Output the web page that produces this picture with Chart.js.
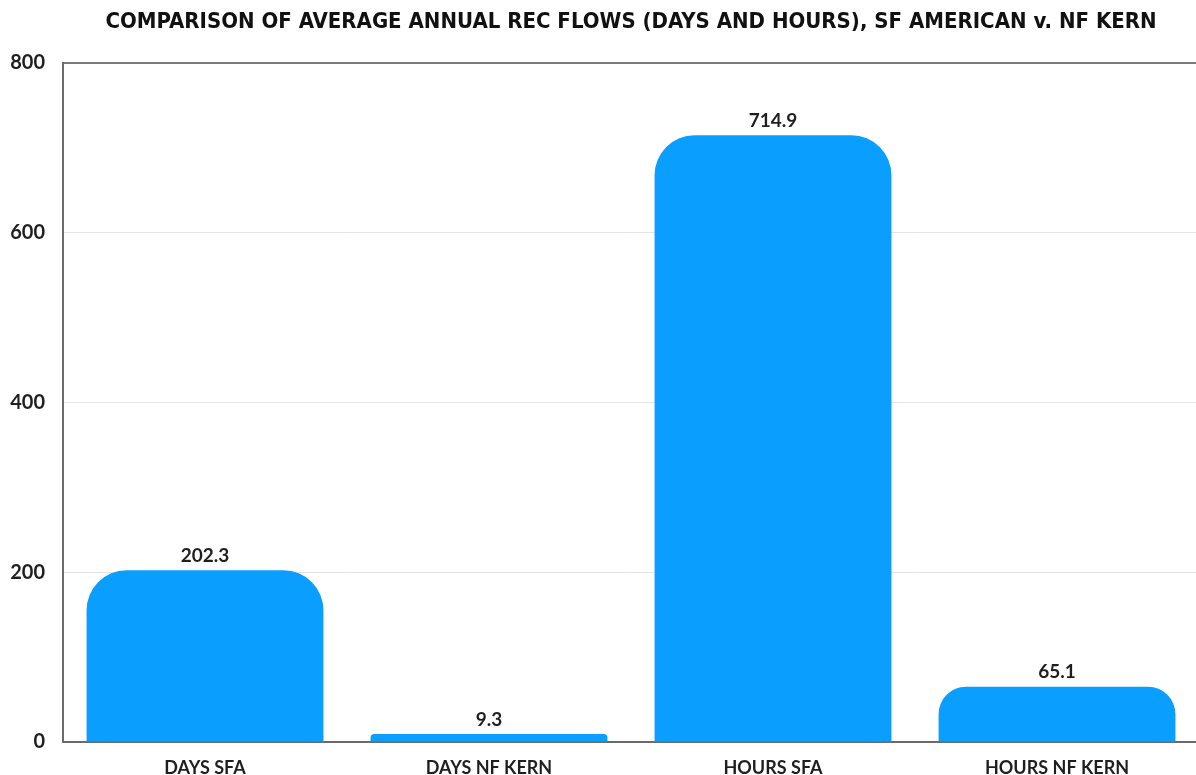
<!DOCTYPE html>
<html>
<head>
<meta charset="utf-8">
<script src="https://cdn.jsdelivr.net/npm/chart.js@4/dist/chart.umd.min.js"></script>
<style>
  html, body { margin: 0; padding: 0; background: #fff; overflow: hidden; }
  #wrap { position: relative; width: 1200px; height: 775px; }
</style>
</head>
<body>
<div id="wrap"><canvas id="chart"></canvas></div>
<script>
// Average annual recreation flows, SF American vs NF Kern
const categories = ['DAYS SFA', 'DAYS NF KERN', 'HOURS SFA', 'HOURS NF KERN'];
const flowValues = [202.3, 9.3, 714.9, 65.1];
const yTicks = [0, 200, 400, 600, 800];

const chartTitle = 'COMPARISON OF AVERAGE ANNUAL REC FLOWS (DAYS AND HOURS), SF AMERICAN v. NF KERN';
const FONT = "Lato, 'Open Sans', sans-serif";
const TITLE_FONT = "bold 22px 'DejaVu Sans Condensed', 'Liberation Sans Narrow', sans-serif";

// Title centred over the plot area rather than the whole canvas
const plotTitle = {
  id: 'plotTitle',
  afterDraw(chart) {
    const ctx = chart.ctx;
    const area = chart.chartArea;
    ctx.save();
    ctx.font = TITLE_FONT;
    ctx.fillStyle = '#111';
    ctx.textAlign = 'center';
    ctx.textBaseline = 'middle';
    ctx.fillText(chartTitle, (area.left + area.right) / 2, 22);
    ctx.restore();
  }
};

// Writes each bar's value just above its top
const valueLabels = {
  id: 'valueLabels',
  afterDatasetsDraw(chart) {
    const ctx = chart.ctx;
    const meta = chart.getDatasetMeta(0);
    ctx.save();
    ctx.font = `bold 19px ${FONT}`;
    ctx.fillStyle = '#1f1f1f';
    ctx.textAlign = 'center';
    ctx.textBaseline = 'bottom';
    meta.data.forEach((bar, i) => {
      ctx.fillText(flowValues[i].toFixed(1), bar.x, bar.y - 5);
    });
    ctx.restore();
  }
};

new Chart(document.getElementById('chart'), {
  type: 'bar',
  data: {
    labels: categories,
    datasets: [{
      data: flowValues,
      backgroundColor: '#0a9eff',
      borderWidth: 0,
      borderSkipped: 'bottom',
      borderRadius: { topLeft: 40, topRight: 40, bottomLeft: 0, bottomRight: 0 },
      categoryPercentage: 1,
      barPercentage: 0.834
    }]
  },
  options: {
    responsive: true,
    maintainAspectRatio: false,
    animation: false,
    layout: { padding: { top: 63, right: 1, left: 0, bottom: 0 } },
    plugins: {
      legend: { display: false },
      tooltip: { enabled: false },
      title: { display: false }
    },
    scales: {
      x: {
        grid: { display: false },
        border: { display: true, color: '#6b6b6b', width: 2 },
        ticks: { color: '#1f1f1f', font: { family: FONT, size: 18, weight: 'bold' }, padding: 7 },
        afterFit(scale) { scale.height = 33; }
      },
      y: {
        min: yTicks[0],
        max: yTicks[yTicks.length - 1],
        afterBuildTicks(scale) { scale.ticks = yTicks.map(v => ({ value: v })); },
        grid: {
          drawTicks: false,
          color: ctx => (ctx.tick && ctx.tick.value === 800 ? '#7a7a7a' : '#e4e4e4'),
          lineWidth: ctx => (ctx.tick && ctx.tick.value === 800 ? 2 : 1)
        },
        border: { display: true, color: '#6b6b6b', width: 2 },
        ticks: { color: '#1f1f1f', font: { family: FONT, size: 20, weight: 'bold' }, padding: 18 },
        afterFit(scale) { scale.width = 63; }
      }
    }
  },
  plugins: [valueLabels, plotTitle]
});
</script>
</body>
</html>
